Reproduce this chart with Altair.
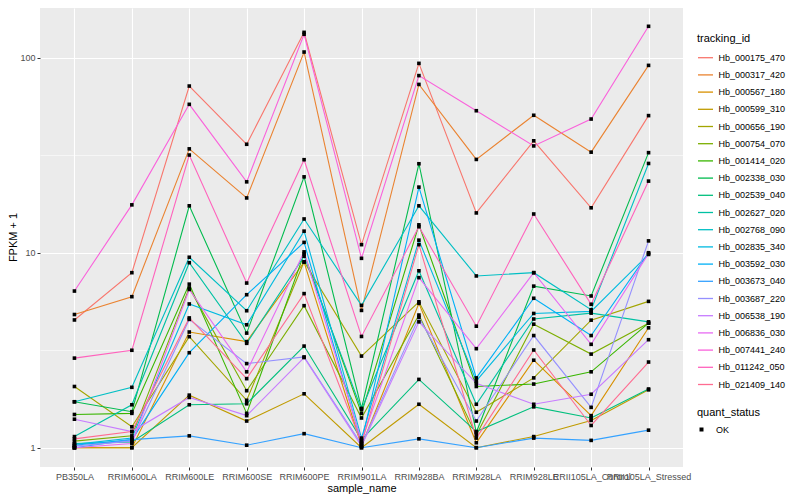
import altair as alt
import pandas as pd

samples = ["PB350LA", "RRIM600LA", "RRIM600LE", "RRIM600SE", "RRIM600PE", "RRIM901LA",
           "RRIM928BA", "RRIM928LA", "RRIM928LE", "RRII105LA_Control", "RRII105LA_Stressed"]

tracking_ids = ["Hb_000175_470", "Hb_000317_420", "Hb_000567_180", "Hb_000599_310", "Hb_000656_190",
                "Hb_000754_070", "Hb_001414_020", "Hb_002338_030", "Hb_002539_040", "Hb_002627_020",
                "Hb_002768_090", "Hb_002835_340", "Hb_003592_030", "Hb_003673_040", "Hb_003687_220",
                "Hb_006538_190", "Hb_006836_030", "Hb_007441_240", "Hb_011242_050", "Hb_021409_140"]

colors = ["#F8766D", "#EA8331", "#D89000", "#C09B00", "#A3A500", "#7CAE00", "#39B600", "#00BB4E",
          "#00BF7D", "#00C1A3", "#00BFC4", "#00BAE0", "#00B0F6", "#35A2FF", "#9590FF", "#C77CFF",
          "#E76BF3", "#FA62DB", "#FF62BC", "#FF6C91"]

hb_000175_470 = [4.52, 7.9, 71.6, 36.0, 135, 11.0, 93.6, 16.0, 37.5, 17.0, 50.5]
hb_000317_420 = [4.82, 5.95, 34.1, 19.1, 107, 5.06, 73, 30.1, 50.7, 32.8, 91.4]
hb_000567_180 = [1.0, 1.0, 3.92, 3.5, 8.95, 1.02, 5.5, 1.06, 2.81, 1.46, 4.12]
hb_000599_310 = [1.0, 1.0, 1.86, 1.37, 1.89, 1.0, 1.67, 1.0, 1.14, 1.38, 1.98]
hb_000656_190 = [2.06, 1.28, 3.71, 1.75, 8.98, 2.95, 5.6, 1.52, 2.28, 4.51, 5.63]
hb_000754_070 = [1.08, 1.15, 6.6, 1.96, 5.35, 1.42, 4.79, 1.16, 4.30, 3.02, 4.35]
hb_001414_020 = [1.48, 1.50, 6.9, 1.50, 9.86, 1.50, 13.9, 2.06, 2.12, 2.45, 4.35]
hb_002338_030 = [1.72, 1.53, 17.4, 3.87, 24.5, 1.59, 28.6, 1.20, 6.74, 6.0, 32.6]
hb_002539_040 = [1.05, 1.07, 1.66, 1.68, 3.32, 1.10, 2.24, 1.21, 1.62, 1.42, 2.0]
hb_002627_020 = [1.14, 1.66, 8.89, 3.43, 9.6, 1.57, 8.08, 1.67, 4.57, 4.9, 4.42]
hb_002768_090 = [1.72, 2.04, 9.48, 5.04, 14.9, 5.37, 17.4, 7.6, 7.9, 5.1, 28.7]
hb_002835_340 = [1.04, 1.12, 5.46, 4.27, 12.9, 1.12, 11.6, 2.2, 4.88, 5.0, 9.8]
hb_003592_030 = [1.03, 1.10, 3.07, 6.09, 11.3, 1.06, 21.7, 2.28, 5.84, 3.76, 10.0]
hb_003673_040 = [1.0, 1.10, 1.15, 1.03, 1.18, 1.0, 1.11, 1.0, 1.12, 1.09, 1.23]
hb_003687_220 = [1.02, 1.08, 4.55, 2.70, 2.92, 1.04, 4.66, 1.37, 3.76, 1.61, 11.5]
hb_006538_190 = [1.40, 1.21, 1.81, 1.46, 2.90, 1.02, 4.42, 2.14, 1.67, 1.88, 3.58]
hb_006836_030 = [1.0, 1.05, 6.48, 2.45, 10.1, 1.08, 7.45, 3.22, 7.9, 3.39, 9.9]
hb_007441_240 = [6.36, 17.6, 57.7, 23.1, 132, 9.36, 81, 53.5, 35.3, 48.5, 145]
hb_011242_050 = [2.88, 3.16, 31.7, 6.99, 30.0, 3.72, 13.6, 4.2, 15.8, 5.44, 23.3]
hb_021409_140 = [1.11, 1.21, 4.63, 2.26, 6.17, 1.05, 11.0, 1.12, 3.17, 1.30, 2.75]

series_values = [hb_000175_470, hb_000317_420, hb_000567_180, hb_000599_310, hb_000656_190,
                 hb_000754_070, hb_001414_020, hb_002338_030, hb_002539_040, hb_002627_020,
                 hb_002768_090, hb_002835_340, hb_003592_030, hb_003673_040, hb_003687_220,
                 hb_006538_190, hb_006836_030, hb_007441_240, hb_011242_050, hb_021409_140]

rows = []
for tid, vals in zip(tracking_ids, series_values):
    for i, (s, v) in enumerate(zip(samples, vals)):
        rows.append({"tracking_id": tid, "sample_name": s, "idx": i, "fpkm": v, "quant_status": "OK"})
df = pd.DataFrame(rows)

FONT = "Liberation Sans"
NARROW = "Liberation Sans Narrow, Liberation Sans"
minor_test = "(datum.value > 3 && datum.value < 4) || (datum.value > 30 && datum.value < 40)"

x_enc = alt.X("sample_name:N", sort=samples,
              scale=alt.Scale(type="point", padding=0.6),
              axis=alt.Axis(title="sample_name", labelAngle=0, grid=True, gridColor="white",
                            gridWidth=1.1, labelPadding=2, labelFont=NARROW, labelFontSize=9,
                            labelColor="#4D4D4D", tickColor="#333333", tickSize=3, domain=False,
                            titleFont=NARROW, titleFontSize=11, titleFontWeight="normal",
                            titleColor="black", titleY=21, titleBaseline="middle"))
y_enc = alt.Y("fpkm:Q",
              scale=alt.Scale(type="log", domain=[0.796, 180], nice=False, zero=False),
              axis=alt.Axis(title="FPKM + 1", values=[1, 3.1623, 10, 31.623, 100],
                            labelExpr="datum.value < 2 ? '1' : datum.value < 5 ? '' : datum.value < 20 ? '10' : datum.value < 50 ? '' : '100'",
                            grid=True, gridColor="white",
                            gridWidth={"condition": {"test": minor_test, "value": 0.55}, "value": 1.1},
                            tickOpacity={"condition": {"test": minor_test, "value": 0}, "value": 1},
                            tickColor="#333333", tickSize=3, domain=False,
                            labelPadding=2, labelFont=NARROW, labelFontSize=9, labelColor="#4D4D4D",
                            titleX=-27, titleY=229, titleBaseline="middle",
                            titleAlign="center", titleAngle=270, titleFont=NARROW,
                            titleFontSize=11, titleFontWeight="normal", titleColor="black"))

lines = alt.Chart(df).mark_line(strokeWidth=1.1).encode(
    x=x_enc,
    y=y_enc,
    order=alt.Order("idx:Q"),
    color=alt.Color("tracking_id:N", sort=tracking_ids,
                    scale=alt.Scale(domain=tracking_ids, range=colors),
                    legend=alt.Legend(title="tracking_id", orient="none", legendX=657, legendY=25,
                                      symbolType="stroke", symbolSize=225, symbolStrokeWidth=1.3,
                                      rowPadding=3.2, labelFontSize=9, titleFontSize=11,
                                      titlePadding=5.2, labelOffset=4.5, padding=0,
                                      labelFont=FONT, titleFont=FONT, titleFontWeight="normal",
                                      labelColor="black", titleColor="black")),
)

points = alt.Chart(df).mark_point(filled=True, size=13, color="black", opacity=1).encode(
    x=alt.X("sample_name:N", sort=samples),
    y=alt.Y("fpkm:Q"),
    shape=alt.Shape("quant_status:N", scale=alt.Scale(domain=["OK"], range=["square"]),
                    legend=alt.Legend(title="quant_status", orient="none", legendX=657, legendY=399,
                                      symbolFillColor="black", symbolStrokeColor="black",
                                      symbolSize=16, labelFontSize=9, titleFontSize=11,
                                      titlePadding=7, labelOffset=10, padding=0,
                                      labelFont=FONT, titleFont=FONT, titleFontWeight="normal",
                                      labelColor="black", titleColor="black")),
)

chart = alt.layer(lines, points).properties(
    width=643, height=459,
    background="white",
    autosize=alt.AutoSizeParams(type="none"),
    padding={"left": 32, "top": 0, "right": 109, "bottom": 30},
).configure_view(fill="#EBEBEB", strokeWidth=0)

chart.save("out.html", embed_options={"renderer": "svg", "actions": False})
